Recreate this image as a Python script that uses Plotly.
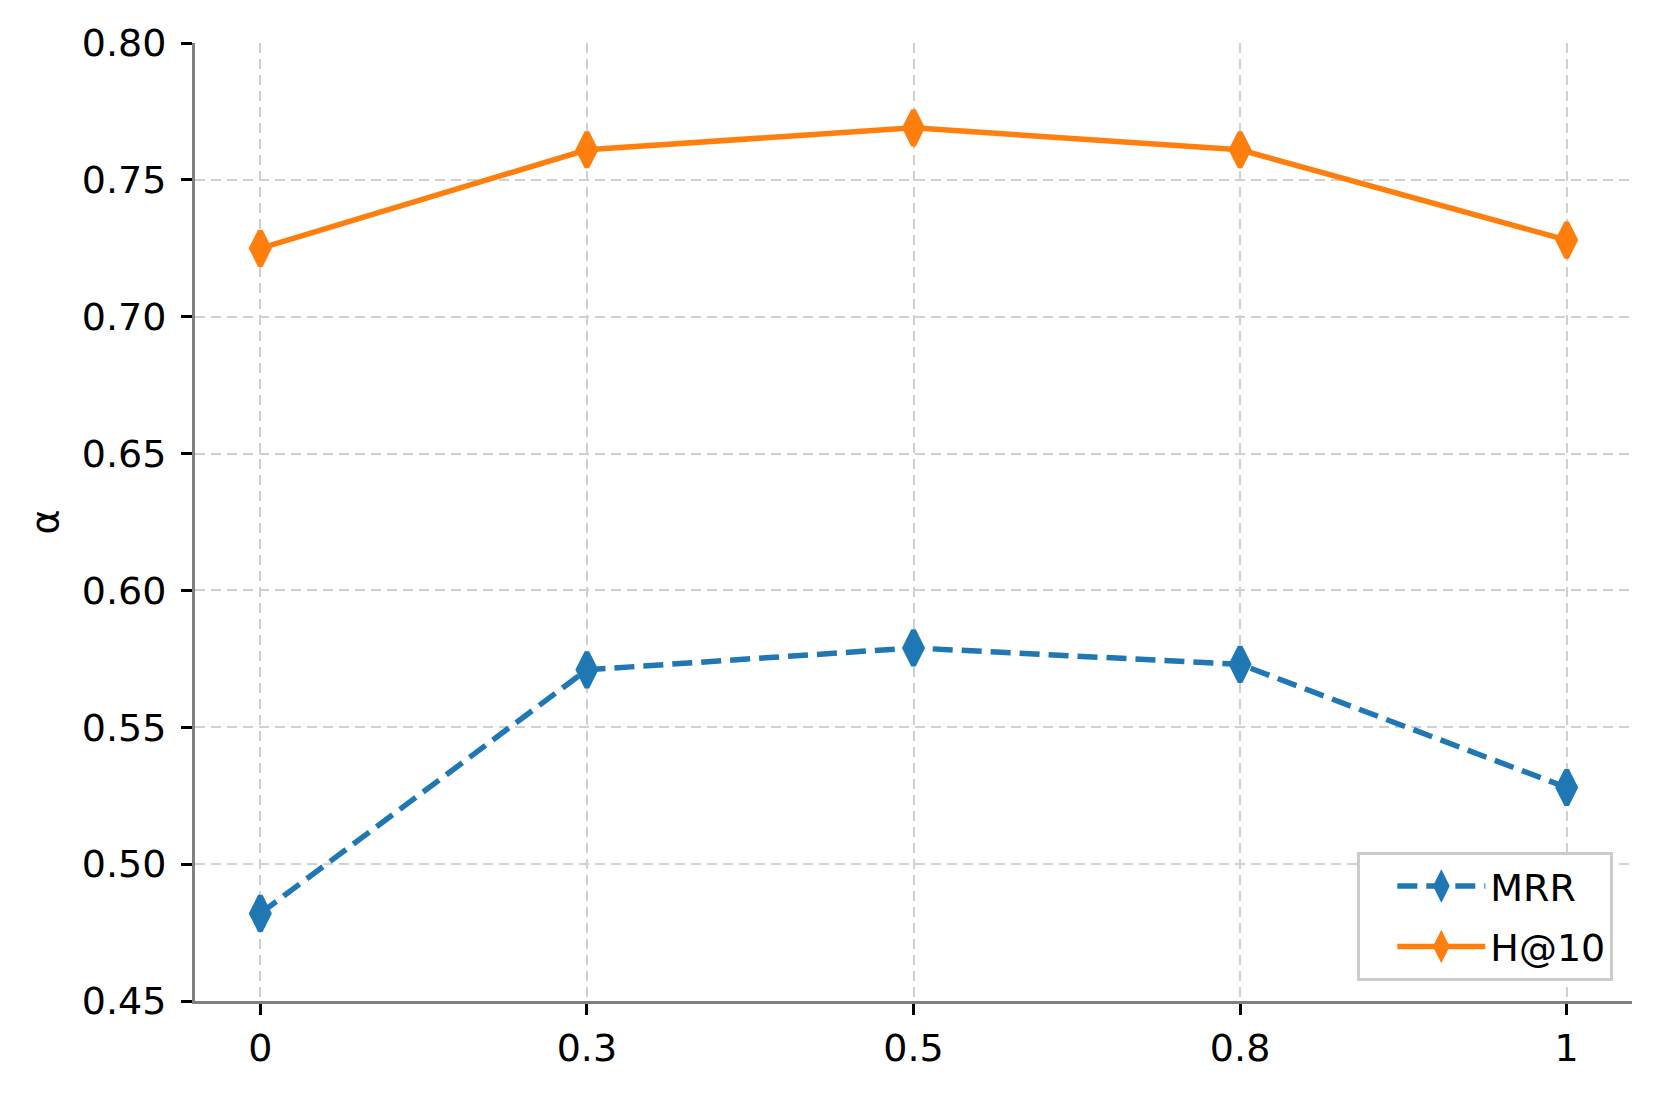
import plotly.graph_objects as go

categories = ["0", "0.3", "0.5", "0.8", "1"]
mrr = [0.482, 0.571, 0.579, 0.573, 0.528]
h10 = [0.725, 0.761, 0.769, 0.761, 0.728]
y_ticks = [0.45, 0.50, 0.55, 0.60, 0.65, 0.70, 0.75, 0.80]

FONT = "DejaVu Sans"
idx = list(range(len(categories)))

fig = go.Figure()
fig.add_trace(go.Scatter(
    x=idx, y=mrr, name="MRR", mode="lines+markers", legendgroup="a",
    line=dict(color="#1f77b4", width=5.5, dash="20px,9px"),
    marker=dict(symbol="diamond-tall", size=25, color="#1f77b4",
                line=dict(color="#1f77b4", width=5)),
))
fig.add_trace(go.Scatter(
    x=idx, y=h10, name="H@10", mode="lines+markers", legendgroup="b",
    line=dict(color="#ff7f0e", width=5.5),
    marker=dict(symbol="diamond-tall", size=25, color="#ff7f0e",
                line=dict(color="#ff7f0e", width=5)),
))

fig.update_layout(
    width=1659, height=1095,
    margin=dict(l=187, r=35, t=35, b=102),
    paper_bgcolor="white", plot_bgcolor="white",
    font=dict(family=FONT, size=38, color="black"),
    legend=dict(
        x=0.987, y=0.021, xanchor="right", yanchor="bottom",
        bgcolor="white", bordercolor="#cccccc", borderwidth=3,
        font=dict(size=38), itemwidth=88, indentation=32,
        tracegroupgap=8, traceorder="grouped",
    ),
    showlegend=True,
)
fig.update_xaxes(
    range=[-0.2, 4.2], tickmode="array", tickvals=idx, ticktext=categories,
    showline=True, linecolor="#808080", linewidth=3,
    ticks="outside", ticklen=11, tickwidth=3, tickcolor="black",
    showgrid=True, gridcolor="#d0d0d0", gridwidth=2.2, griddash="10px,6px",
    zeroline=False, ticklabelstandoff=0, automargin=False,
)
fig.update_yaxes(
    range=[0.45, 0.80], tickmode="array", tickvals=y_ticks,
    ticktext=[f"{v:.2f}" for v in y_ticks],
    showline=True, linecolor="#808080", linewidth=3,
    ticks="outside", ticklen=11, tickwidth=3, tickcolor="black",
    showgrid=True, gridcolor="#d0d0d0", gridwidth=2.2, griddash="10px,6px",
    zeroline=False, ticklabelstandoff=7, automargin=False,
    title=dict(text="α", standoff=12, font=dict(size=38)),
)

fig.write_html("out.html")
